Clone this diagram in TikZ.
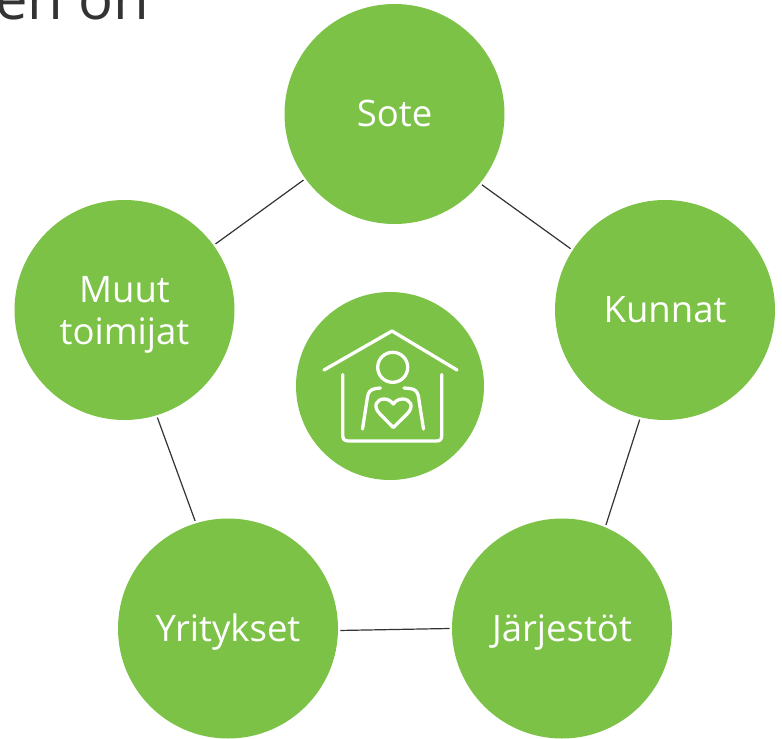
\documentclass[tikz,border=0pt]{standalone}
\usepackage{fontspec}
\setmainfont{Open Sans}
\definecolor{lime}{HTML}{7CC246}
\definecolor{ink}{HTML}{333333}
\tikzset{
  bubble/.style={circle,fill=lime,text=white,minimum size=220pt,inner sep=0pt,outer sep=2.5pt,align=center,text height=29pt,text depth=4pt,font=\fontsize{36.5}{42}\selectfont},
  hub/.style={circle,fill=lime,minimum size=188pt,inner sep=0pt},
  link/.style={draw=ink,line width=1.2pt},
  iconline/.style={draw=white,line width=3.3pt,line cap=round,line join=round}
}
\begin{document}
\begin{tikzpicture}[x=1pt,y=-1pt]
\useasboundingbox (0,0) rectangle (782,739);
\fill[white] (0,0) rectangle (782,739);
\node[anchor=base west,inner sep=0pt,text=ink,font=\fontsize{58}{60}\selectfont] (head) at (-5,19) {en on};
\node[bubble] (sote) at (394.5,114) {Sote};
\node[bubble] (kunnat) at (665,310) {Kunnat};
\node[bubble] (jarj) at (562,628.5) {Järjestöt};
\node[bubble] (yrit) at (228,628.5) {Yritykset};
\node[bubble,text height=72pt,text depth=4pt] (muut) at (124.5,310) {Muut\\toimijat};
\node[hub] (hub) at (390,386) {};
\draw[link] (sote.-39.8) -- (kunnat.147.4);
\draw[link] (kunnat.-103.3) -- (jarj.67.6);
\draw[link] (yrit.-1) -- (jarj.180);
\draw[link] (muut.-73.9) -- (yrit.107.1);
\draw[link] (sote) -- (muut);
% house icon
\draw[iconline] (324,370) -- (392,331) -- (457,370);
\draw[iconline] (342.7,374.5) -- (342.7,435) .. controls (342.7,439.5) and (344.5,441) .. (349,441) -- (436,441) .. controls (440.5,441) and (441.7,439.5) .. (441.7,435) -- (441.7,374.5);
\draw[iconline] (392.7,367.3) circle (15pt);
\draw[iconline] (380.5,388) -- (376,388.5) .. controls (370,389) and (368,393) .. (367.5,397) -- (362.5,429);
\draw[iconline] (404,388) -- (410,388.5) .. controls (416,389) and (418,393) .. (418.5,397) -- (423.5,429);
\draw[iconline] (393.3,427.5) -- (380,414) .. controls (372,406) and (377,399) .. (384,399) .. controls (388,399) and (391,401) .. (393.3,404) .. controls (395.5,401) and (398.5,399) .. (402.5,399) .. controls (410,399) and (415,406) .. (407,414) -- cycle;
\end{tikzpicture}
\end{document}
